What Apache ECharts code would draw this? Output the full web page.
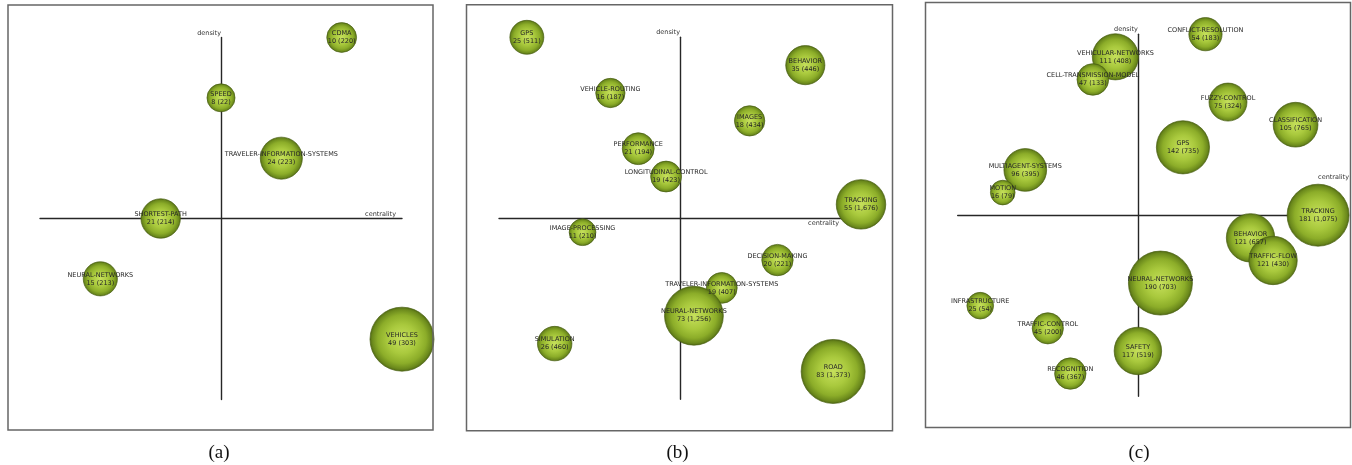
<!DOCTYPE html>
<html>
<head>
<meta charset="utf-8">
<script src="https://cdn.jsdelivr.net/npm/echarts@6/dist/echarts.min.js"></script>
<style>
  html, body { margin: 0; padding: 0; background: #ffffff; }
  #chart { width: 1352px; height: 465px; }
</style>
</head>
<body>
<div id="chart"></div>
<script>
// Strategic diagrams: each theme is placed by its centrality rank (x) and
// density rank (y); bubble size follows the number of documents, and the
// label shows "documents (citations)".

// Period (a)
const aThemes = ['CDMA', 'SPEED', 'TRAVELER-INFORMATION-SYSTEMS', 'SHORTEST-PATH', 'NEURAL-NETWORKS', 'VEHICLES'];
const aDocuments = [10, 8, 24, 21, 15, 49];
const aCitations = [220, 22, 223, 214, 213, 303];
const aCentralityRank = [5, 3, 4, 2, 1, 6];
const aDensityRank = [6, 5, 4, 3, 2, 1];

// Period (b)
const bThemes = ['GPS', 'VEHICLE-ROUTING', 'BEHAVIOR', 'IMAGES', 'PERFORMANCE', 'LONGITUDINAL-CONTROL',
  'TRACKING', 'IMAGE-PROCESSING', 'DECISION-MAKING', 'TRAVELER-INFORMATION-SYSTEMS', 'NEURAL-NETWORKS',
  'SIMULATION', 'ROAD'];
const bDocuments = [25, 16, 35, 18, 21, 19, 55, 11, 20, 19, 73, 26, 83];
const bCitations = [511, 187, 446, 434, 194, 423, 1676, 210, 221, 407, 1256, 460, 1373];
const bCentralityRank = [1, 4, 11, 9, 5, 6, 13, 3, 10, 8, 7, 2, 12];
const bDensityRank = [13, 11, 12, 10, 9, 8, 7, 6, 5, 4, 3, 2, 1];

// Period (c)
const cThemes = ['CONFLICT-RESOLUTION', 'VEHICULAR-NETWORKS', 'CELL-TRANSMISSION-MODEL', 'FUZZY-CONTROL',
  'CLASSIFICATION', 'GPS', 'MULTIAGENT-SYSTEMS', 'MOTION', 'TRACKING', 'BEHAVIOR', 'TRAFFIC-FLOW',
  'NEURAL-NETWORKS', 'INFRASTRUCTURE', 'TRAFFIC-CONTROL', 'SAFETY', 'RECOGNITION'];
const cDocuments = [54, 111, 47, 75, 105, 142, 96, 16, 181, 121, 121, 190, 25, 45, 117, 46];
const cCitations = [183, 408, 133, 324, 765, 735, 395, 79, 1075, 657, 430, 703, 54, 200, 519, 367];
const cCentralityRank = [11, 7, 6, 12, 15, 10, 3, 2, 16, 13, 14, 9, 1, 4, 8, 5];
const cDensityRank = [16, 15, 14, 13, 12, 11, 10, 9, 8, 7, 6, 5, 4, 3, 2, 1];

const panelCaptions = ['(a)', '(b)', '(c)'];

const periods = [
  { themes: aThemes, docs: aDocuments, cites: aCitations, cRank: aCentralityRank, dRank: aDensityRank },
  { themes: bThemes, docs: bDocuments, cites: bCitations, cRank: bCentralityRank, dRank: bDensityRank },
  { themes: cThemes, docs: cDocuments, cites: cCitations, cRank: cCentralityRank, dRank: cDensityRank }
];

// Layout of the three panels (frame and axis cross in pixels)
const layout = [
  { frame: [8, 5, 425, 425],       cross: [40, 37.5],  caption: [219, 453],
    cName: { align: 'right', verticalAlign: 'bottom', gap: -6, pad: [0, 0, 1, 0] } },
  { frame: [466.5, 4.7, 426, 426], cross: [499, 37.3], caption: [677.5, 453],
    cName: { align: 'right', verticalAlign: 'top', gap: -22, pad: [2, 0, 0, 0] } },
  { frame: [925.5, 2.5, 425, 425], cross: [957.7, 34.2], caption: [1139, 453],
    cName: { align: 'left', verticalAlign: 'bottom', gap: 0, pad: [0, 0, 34, 0] } }
];
const CROSS = 362;

const FONT = '"DejaVu Sans", Verdana, sans-serif';

const bubbleFill = {
  type: 'radial', x: 0.5, y: 0.5, r: 0.5,
  colorStops: [
    { offset: 0, color: '#c6e05c' },
    { offset: 0.45, color: '#a9c93d' },
    { offset: 0.75, color: '#8cad29' },
    { offset: 0.92, color: '#6b891c' },
    { offset: 1, color: '#4f6713' }
  ]
};

const grids = [], xAxes = [], yAxes = [], series = [], graphics = [];

periods.forEach((p, i) => {
  const L = layout[i];
  const n = p.themes.length;
  const maxDocs = Math.max(...p.docs);

  grids.push({ left: L.cross[0], top: L.cross[1], width: CROSS, height: CROSS });

  xAxes.push({
    gridIndex: i, type: 'value', min: -1, max: 1,
    name: 'centrality', nameLocation: 'end', nameGap: L.cName.gap,
    nameTextStyle: {
      fontFamily: FONT, fontSize: 6.5, color: '#333',
      align: L.cName.align, verticalAlign: L.cName.verticalAlign, padding: L.cName.pad
    },
    axisLine: { show: true, onZero: true, lineStyle: { color: '#262626', width: 1.4 } },
    axisTick: { show: false }, axisLabel: { show: false }, splitLine: { show: false }
  });
  yAxes.push({
    gridIndex: i, type: 'value', min: -1, max: 1,
    name: 'density', nameLocation: 'end', nameGap: 1,
    nameTextStyle: {
      fontFamily: FONT, fontSize: 6.5, color: '#333',
      align: 'right', verticalAlign: 'bottom'
    },
    axisLine: { show: true, onZero: true, lineStyle: { color: '#262626', width: 1.4 } },
    axisTick: { show: false }, axisLabel: { show: false }, splitLine: { show: false }
  });

  const data = p.themes.map((name, k) => ({
    name,
    value: [(2 * p.cRank[k] - n) / n, (2 * p.dRank[k] - n) / n, p.docs[k], p.cites[k]]
  }));

  series.push({
    type: 'scatter', xAxisIndex: i, yAxisIndex: i, clip: false,
    data,
    symbol: 'circle',
    symbolSize: v => 2 * (10.5 + 21.5 * v[2] / maxDocs),
    itemStyle: { color: bubbleFill, borderColor: '#4a6112', borderWidth: 0.7, opacity: 1 },
    label: {
      show: true, position: 'inside',
      fontFamily: FONT, fontSize: 6.5, lineHeight: 8, color: '#262626',
      formatter: q => q.name + '\n' + q.value[2] + ' (' + q.value[3].toLocaleString('en-US') + ')'
    },
    emphasis: { disabled: true },
    animation: false
  });

  graphics.push({
    type: 'rect', z: 100,
    shape: { x: L.frame[0], y: L.frame[1], width: L.frame[2], height: L.frame[3] },
    style: { fill: 'none', stroke: '#666666', lineWidth: 1.5 }
  });
  graphics.push({
    type: 'text', z: 100,
    x: L.caption[0], y: L.caption[1],
    style: {
      text: panelCaptions[i], fill: '#111', align: 'center', verticalAlign: 'middle',
      font: '19px "Liberation Serif", "Times New Roman", serif'
    }
  });
});

const chart = echarts.init(document.getElementById('chart'), null, { renderer: 'canvas' });
chart.setOption({
  backgroundColor: '#ffffff',
  animation: false,
  grid: grids,
  xAxis: xAxes,
  yAxis: yAxes,
  series,
  graphic: graphics
});
</script>
</body>
</html>
